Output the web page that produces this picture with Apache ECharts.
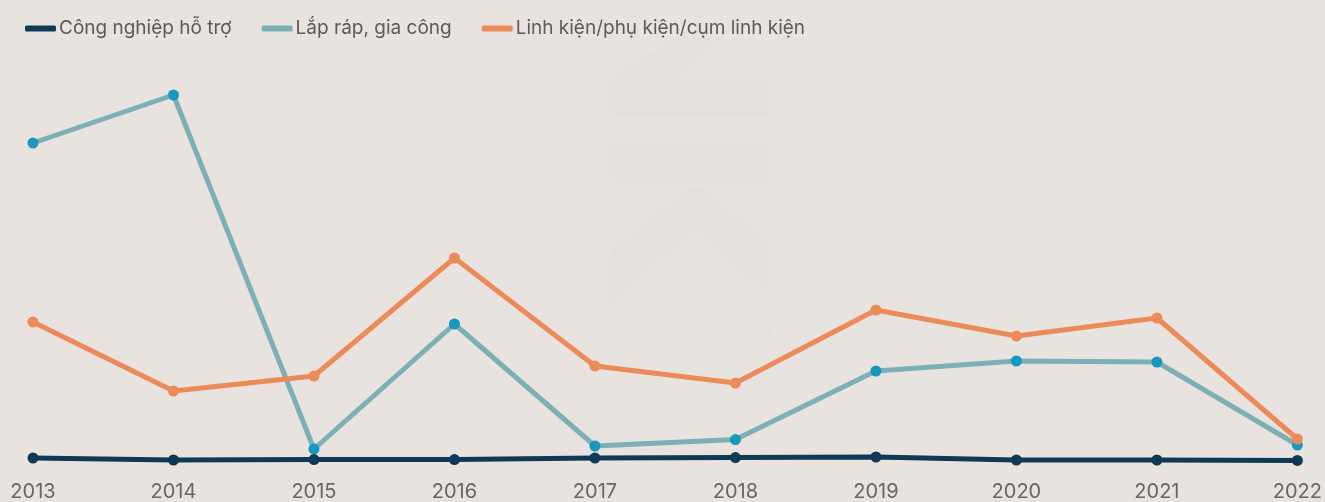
<!DOCTYPE html>
<html>
<head>
<meta charset="utf-8">
<script src="https://cdn.jsdelivr.net/npm/echarts@6/dist/echarts.min.js"></script>
<style>
  html, body { margin: 0; padding: 0; background: #e9e3e0; }
  #chart { width: 1325px; height: 502px; }
</style>
</head>
<body>
<div id="chart"></div>
<script>
// Years on the horizontal axis
const years = ['2013', '2014', '2015', '2016', '2017', '2018', '2019', '2020', '2021', '2022'];

// Series values (relative share, %)
const congNghiepHoTro = [1.0, 0.5, 0.6, 0.6, 1.0, 1.1, 1.25, 0.5, 0.5, 0.4];
const lapRapGiaCong = [79.75, 91.75, 3.25, 34.5, 4.0, 5.6, 22.75, 25.25, 25.0, 4.25];
const linhKien = [35, 17.75, 21.5, 51, 24, 19.75, 38, 31.5, 36, 5.75];

const seriesNames = ['Công nghiệp hỗ trợ', 'Lắp ráp, gia công', 'Linh kiện/phụ kiện/cụm linh kiện'];
const lineColors = ['#0e3a55', '#7db0b6', '#ec8b5a'];
const dotColors = ['#0e3a55', '#1797c2', '#ec8b5a'];

const FONT = 'Inter, "Noto Sans", sans-serif';
const WM = '#e6e1dc';

const chart = echarts.init(document.getElementById('chart'), null, { renderer: 'canvas' });

function lineSeries(i, data, z) {
  return {
    name: seriesNames[i],
    type: 'line',
    data: data,
    z: z,
    symbol: 'circle',
    symbolSize: 11,
    showAllSymbol: true,
    lineStyle: { color: lineColors[i], width: 5, cap: 'round', join: 'round' },
    itemStyle: { color: dotColors[i] },
    emphasis: { disabled: true }
  };
}

chart.setOption({
  backgroundColor: '#e9e3e0',
  animation: false,
  graphic: [
    // faint logo mark behind the plot
    { type: 'polygon', z: -10, silent: true, shape: { points: [[610, 78], [690, 30], [732, 30], [677, 78]] }, style: { fill: WM } },
    { type: 'rect', z: -10, silent: true, shape: { x: 610, y: 78, width: 160, height: 39 }, style: { fill: WM } },
    { type: 'rect', z: -10, silent: true, shape: { x: 610, y: 142, width: 160, height: 40 }, style: { fill: WM } },
    { type: 'polygon', z: -10, silent: true, shape: { points: [[610, 250], [690, 187], [705, 187], [770, 247], [770, 297], [695, 228], [610, 305]] }, style: { fill: WM } },
    { type: 'circle', z: -10, silent: true, shape: { cx: 743, cy: 332, r: 26 }, style: { fill: 'none', stroke: WM, lineWidth: 2.5 } },
    { type: 'text', z: -10, silent: true, x: 743, y: 332, style: { text: 'R', fill: WM, font: '30px ' + FONT, align: 'center', verticalAlign: 'middle' } }
  ],
  legend: {
    top: 14,
    left: 20,
    itemGap: 30,
    itemWidth: 31,
    itemHeight: 6,
    icon: 'roundRect',
    textStyle: { fontFamily: FONT, fontSize: 19, color: '#5b5b5b', padding: [0, 0, 0, -2] },
    data: seriesNames.map((n, i) => ({ name: n, itemStyle: { color: lineColors[i] } }))
  },
  grid: { left: 33, right: 25, top: 62, bottom: 40, containLabel: false },
  xAxis: {
    type: 'category',
    data: years,
    boundaryGap: false,
    axisLine: { show: false },
    axisTick: { show: false },
    axisLabel: { fontFamily: FONT, fontSize: 20, color: '#676767', margin: 20 }
  },
  yAxis: {
    type: 'value',
    min: 0,
    max: 100,
    show: false,
    splitLine: { show: false }
  },
  series: [
    lineSeries(0, congNghiepHoTro, 4),
    lineSeries(1, lapRapGiaCong, 3),
    lineSeries(2, linhKien, 5)
  ]
});
</script>
</body>
</html>
